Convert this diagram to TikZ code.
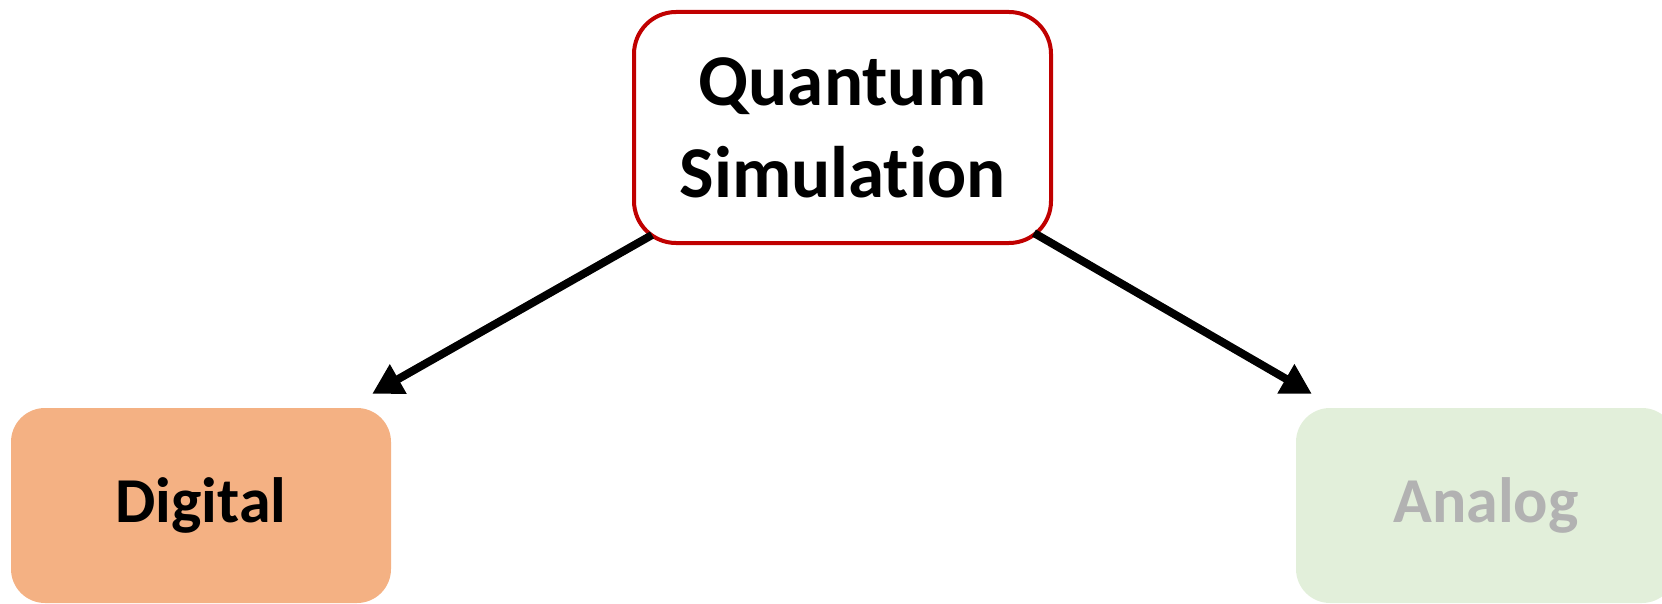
\documentclass[tikz,border=0pt]{standalone}
\usepackage{fontspec}
\setmainfont{Carlito}[Ligatures=NoCommon]
\usetikzlibrary{arrows.meta}
\definecolor{qred}{HTML}{C00000}
\definecolor{dorange}{HTML}{F4B183}
\definecolor{agreen}{HTML}{E2EFDA}
\definecolor{agrey}{HTML}{B2B2B2}
\tikzset{
  topbox/.style={draw=qred, line width=4pt, fill=white, rounded corners=42pt, minimum width=417pt, minimum height=231pt, align=center, font=\fontsize{73}{92}\selectfont\bfseries, inner sep=0pt},
  leafbox/.style={rounded corners=34pt, minimum width=380pt, minimum height=195pt, inner sep=0pt, font=\fontsize{64}{76}\selectfont\bfseries},
  arr/.style={line width=8pt, -{Triangle[length=30pt,width=32pt]}}
}
\begin{document}
\begin{tikzpicture}[x=1pt,y=-1pt]
\useasboundingbox (0,0) rectangle (1662,604);
\clip (0,0) rectangle (1662,604);
\node[topbox] (q) at (842.5,127.5) {Quantum\\Simulation};
\node[leafbox, fill=dorange, text=black] (d) at (201,505.5) {Digital};
\node[leafbox, fill=agreen, text=agrey] (a) at (1486,505.5) {Analog};
\draw[arr] ([xshift=20pt,yshift=10pt]q.south west) -- ([xshift=-19pt,yshift=14pt]d.north east);
\draw[arr] ([xshift=-19pt,yshift=12pt]q.south east) -- ([xshift=16pt,yshift=14pt]a.north west);
\end{tikzpicture}
\end{document}
